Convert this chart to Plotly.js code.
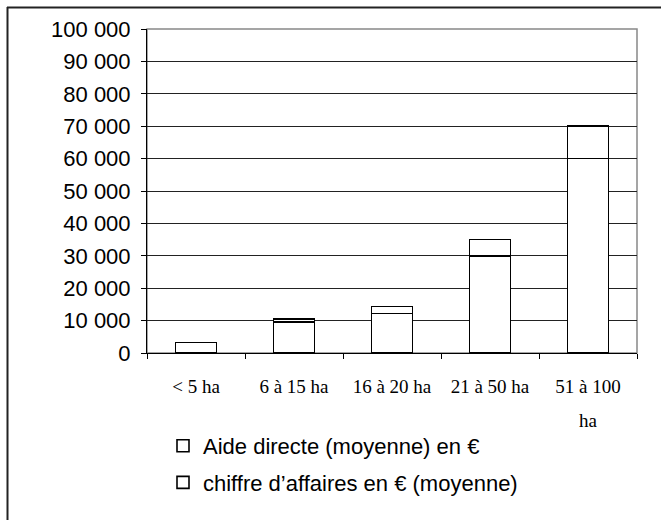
<!DOCTYPE html>
<html>
<head>
<meta charset="utf-8">
<script src="https://cdn.plot.ly/plotly-3.0.1.min.js"></script>
<style>
html,body{margin:0;padding:0;background:#fff;overflow:hidden;}
#chart{width:661px;height:520px;}
</style>
</head>
<body>
<div id="chart"></div>
<script>
const categories = ["< 5 ha", "6 à 15 ha", "16 à 20 ha", "21 à 50 ha", "51 à 100 ha"];
const tickLabels = ["< 5 ha", "6 à 15 ha", "16 à 20 ha", "21 à 50 ha", "51 à 100<br>ha"];
const aideDirecte = [3300, 9500, 12200, 30000, 60000];
const chiffreAffaires = [0, 1000, 2200, 5000, 10000];
const seriesNames = ["Aide directe (moyenne) en €", "chiffre d’affaires en € (moyenne)"];
const yTickVals = [0, 10000, 20000, 30000, 40000, 50000, 60000, 70000, 80000, 90000, 100000];
const yTickText = ["0", "10 000", "20 000", "30 000", "40 000", "50 000", "60 000", "70 000", "80 000", "90 000", "100 000"];

const barStyle = {color: "#ffffff", line: {color: "#000000", width: 1.6}};
const traces = [
  {type: "bar", name: seriesNames[0], x: categories, y: aideDirecte, marker: barStyle, legendgroup: "a", hoverinfo: "skip"},
  {type: "bar", name: seriesNames[1], x: categories, y: chiffreAffaires, marker: barStyle, legendgroup: "b", hoverinfo: "skip"}
];

const L = 147, R = 637, T = 29, B = 353;
const W = R - L, H = B - T;
const px = v => (v - L) / W;
const py = v => (B - v) / H;

const serifFont = {family: "Liberation Serif, Times New Roman, serif", size: 19, color: "#000"};

// first line of each tick label on the axis, further lines placed lower (wider line spacing as in the reference)
const firstLines = tickLabels.map(t => t.split("<br>")[0]);
const extraLines = [];
tickLabels.forEach((t, i) => {
  const parts = t.split("<br>");
  parts.slice(1).forEach((p, k) => {
    extraLines.push({
      xref: "x", yref: "paper", x: categories[i], y: py(420 + 29 * k),
      yanchor: "middle", xanchor: "center", showarrow: false, text: p,
      font: serifFont
    });
  });
});

const layout = {
  width: 661, height: 520,
  margin: {l: L, r: 661 - R, t: T, b: 520 - B},
  paper_bgcolor: "#ffffff", plot_bgcolor: "#ffffff",
  barmode: "stack", bargap: 0.58,
  showlegend: true,
  legend: {
    x: px(163), y: py(425), xanchor: "left", yanchor: "top",
    traceorder: "grouped", tracegroupgap: 5,
    font: {family: "Liberation Sans, Arial, sans-serif", size: 22, color: "#000"},
    bgcolor: "rgba(0,0,0,0)", itemwidth: 30
  },
  xaxis: {
    type: "category", tickvals: categories, ticktext: firstLines, tickangle: 0,
    showline: true, linecolor: "#000", linewidth: 1,
    ticks: "outside", tickson: "boundaries", ticklen: 5, tickcolor: "#000",
    showgrid: false, zeroline: false,
    tickfont: serifFont,
    ticklabelstandoff: 16
  },
  yaxis: {
    range: [0, 100000], tickvals: yTickVals, ticktext: yTickText,
    showline: true, linecolor: "#000", linewidth: 1,
    ticks: "outside", ticklen: 5, tickcolor: "#000",
    showgrid: true, gridcolor: "#222", gridwidth: 1, zeroline: false,
    tickfont: {family: "Liberation Sans, Arial, sans-serif", size: 22, color: "#000"},
    ticklabelstandoff: 6
  },
  annotations: extraLines,
  shapes: [
    {type: "rect", xref: "paper", yref: "paper", x0: 0, x1: 1, y0: 0, y1: 1, line: {color: "#888", width: 1.5}, layer: "below"},
    {type: "line", xref: "paper", yref: "paper", x0: px(7.5), x1: px(7.5), y0: py(7), y1: py(520), line: {color: "#222", width: 2}},
    {type: "line", xref: "paper", yref: "paper", x0: px(7), x1: px(661), y0: py(7.5), y1: py(7.5), line: {color: "#222", width: 2}}
  ]
};

Plotly.newPlot("chart", traces, layout, {staticPlot: true, displayModeBar: false});
</script>
</body>
</html>
